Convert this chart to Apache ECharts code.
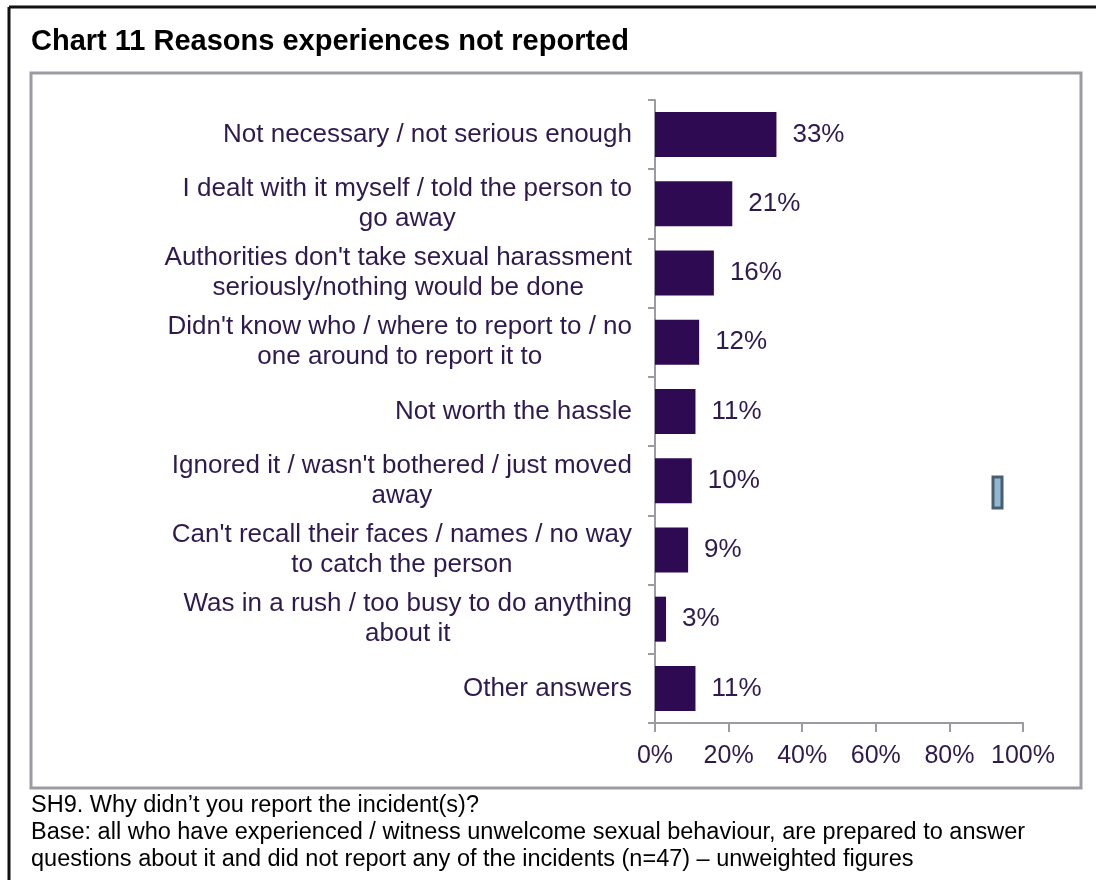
<!DOCTYPE html>
<html>
<head>
<meta charset="utf-8">
<style>
  html, body { margin: 0; padding: 0; background: #ffffff; }
  #chart { width: 1096px; height: 880px; }
</style>
<script src="https://cdn.jsdelivr.net/npm/echarts@6/dist/echarts.min.js"></script>
</head>
<body>
<div id="chart"></div>
<script>
// Reasons given for not reporting an incident (% of respondents)
const reasons = [
  'Not necessary / not serious enough',
  'I dealt with it myself / told the person to\ngo away',
  'Authorities don\'t take sexual harassment\nseriously/nothing would be done',
  'Didn\'t know who / where to report to / no\none around to report it to',
  'Not worth the hassle',
  'Ignored it / wasn\'t bothered / just moved\naway',
  'Can\'t recall their faces / names / no way\nto catch the person',
  'Was in a rush / too busy to do anything\nabout it',
  'Other answers'
];
const shares = [33, 21, 16, 12, 11, 10, 9, 3, 11];

const axisTicks = [0, 20, 40, 60, 80, 100];

const titleText = 'Chart 11 Reasons experiences not reported';
const footnoteLines = [
  'SH9. Why didn\u2019t you report the incident(s)?',
  'Base: all who have experienced / witness unwelcome sexual behaviour, are prepared to answer',
  'questions about it and did not report any of the incidents (n=47) \u2013 unweighted figures'
];

const purpleText = '#2f1a50';
const barColor = '#2d0a52';
const axisGrey = '#9d99a5';
const font = '"Liberation Sans", Arial, sans-serif';

const chart = echarts.init(document.getElementById('chart'), null, { renderer: 'canvas' });

chart.setOption({
  backgroundColor: '#ffffff',
  animation: false,
  title: {
    text: titleText,
    left: 31,
    top: 27,
    padding: 0,
    textStyle: { fontFamily: font, fontSize: 29, fontWeight: 'bold', color: '#000000' }
  },
  graphic: [
    // outer frame (top and left edges)
    { type: 'line', shape: { x1: 9, y1: 7, x2: 1096, y2: 7 }, style: { stroke: '#111111', lineWidth: 3 } },
    { type: 'line', shape: { x1: 9, y1: 7, x2: 9, y2: 880 }, style: { stroke: '#111111', lineWidth: 3 } },
    // plot frame
    { type: 'rect', shape: { x: 31, y: 73, width: 1050, height: 715 },
      style: { fill: null, stroke: axisGrey, lineWidth: 3 } },
    // small marker on the right
    { type: 'rect', shape: { x: 993, y: 477, width: 9, height: 31 },
      style: { fill: '#8fb9d2', stroke: '#4a5e6e', lineWidth: 3 } },
    // footnote
    { type: 'text', left: 31, top: 792,
      style: { text: footnoteLines.join('\n'), font: '23.5px ' + font, fill: '#000000', lineHeight: 27 } }
  ],
  grid: { left: 655, right: 73, top: 100, bottom: 157, containLabel: false },
  xAxis: {
    type: 'value',
    min: axisTicks[0],
    max: axisTicks[axisTicks.length - 1],
    interval: axisTicks[1] - axisTicks[0],
    splitLine: { show: false },
    axisLine: { show: true, lineStyle: { color: axisGrey, width: 2 } },
    axisTick: { show: true, length: 9, lineStyle: { color: axisGrey, width: 2 } },
    axisLabel: {
      formatter: '{value}%', margin: 21,
      fontFamily: font, fontSize: 25, color: purpleText
    }
  },
  yAxis: {
    type: 'category',
    inverse: true,
    data: reasons,
    axisLine: { show: true, lineStyle: { color: axisGrey, width: 2 } },
    axisTick: { show: true, length: 7, lineStyle: { color: axisGrey, width: 2 } },
    axisLabel: {
      margin: 23, fontFamily: font, fontSize: 26, lineHeight: 30,
      color: purpleText, align: 'right',
      // each wrapped line is centred under the one above it
      formatter: function (name) {
        return name.split('\n').map(function (line) { return '{c|' + line + '}'; }).join('\n');
      },
      rich: {
        c: { align: 'center', fontFamily: font, fontSize: 26, lineHeight: 30, color: purpleText }
      }
    }
  },
  series: [{
    type: 'bar',
    data: shares,
    barWidth: '65%',
    itemStyle: { color: barColor },
    label: {
      show: true, position: 'right', distance: 16,
      formatter: '{c}%', fontFamily: font, fontSize: 26, color: purpleText
    }
  }]
});
</script>
</body>
</html>
